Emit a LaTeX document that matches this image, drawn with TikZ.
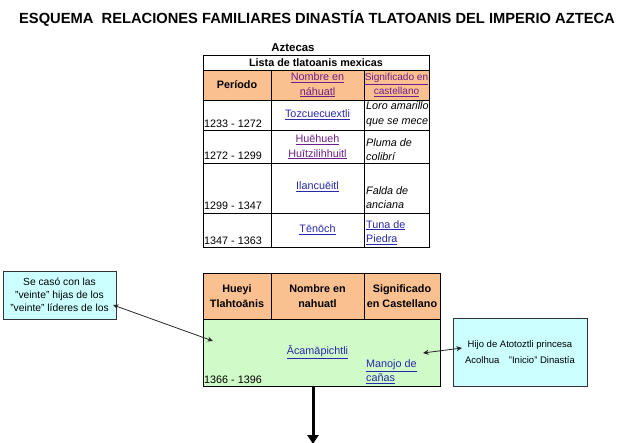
\documentclass[tikz,border=0pt]{standalone}
\usepackage{fontspec}
\setmainfont{Liberation Sans}
\usetikzlibrary{arrows.meta}
\definecolor{hdr}{RGB}{250,192,144}
\definecolor{grn}{RGB}{208,250,200}
\definecolor{cyn}{RGB}{204,255,255}
\definecolor{lnk}{RGB}{40,40,170}
\definecolor{vis}{RGB}{110,30,140}
\newcommand\lkb[1]{\textcolor{lnk}{\underline{#1}}}
\newcommand\lkv[1]{\textcolor{vis}{\underline{#1}}}
\begin{document}
\begin{tikzpicture}[x=1pt,y=-1pt,
  txt/.style={inner sep=0pt, font=\fontsize{10.8}{14.5}\selectfont, align=center},
  txtl/.style={inner sep=0pt, font=\fontsize{10.8}{14.5}\selectfont, align=left},
  bold/.style={inner sep=0pt, font=\fontsize{10.8}{14.5}\selectfont\bfseries, align=center},
  grid/.style={draw=black, line width=0.6pt},
  callout/.style={draw=black!80, line width=0.8pt, fill=cyn, align=center, inner sep=0pt},
  dbl/.style={{Stealth[length=5.5pt,width=5pt]}-{Stealth[length=5.5pt,width=5pt]}, line width=0.8pt, draw=black!85},
  down/.style={-{Triangle[length=9pt,width=11pt]}, line width=3pt}
]
\useasboundingbox (0,0) rectangle (640,442);
% title
\node[inner sep=0pt, font=\fontsize{14.7}{16}\selectfont\bfseries] (title) at (317,18)
  {ESQUEMA\ \ RELACIONES FAMILIARES DINASTÍA TLATOANIS DEL IMPERIO AZTECA};

% ---------- top table ----------
\node[bold, font=\fontsize{11.4}{14}\selectfont\bfseries] (azt) at (293,48) {Aztecas};
\fill[hdr] (203,70) rectangle (429,100);
\draw[grid] (203,55) rectangle (429,247);
\draw[grid] (203,70) -- (429,70);
\draw[grid] (203,100) -- (429,100);
\draw[grid] (203,130) -- (429,130);
\draw[grid] (203,163) -- (429,163);
\draw[grid] (203,213) -- (429,213);
\draw[grid] (271,70) -- (271,247);
\draw[grid] (364,70) -- (364,247);
\node[bold] (lista) at (316,62.5) {Lista de tlatoanis mexicas};
\node[bold] (per) at (237,85) {Período};
\node[txt] (nom) at (317.5,85) {\lkv{Nombre en}\\\lkv{náhuatl}};
\node[txt, font=\fontsize{10.1}{14.5}\selectfont] (sig) at (396.5,85) {\lkv{Significado en}\\\lkv{castellano}};
% row 1
\node[txtl, anchor=base west] (p1) at (204,127) {1233 - 1272};
\node[txt] (n1) at (317.5,115) {\lkb{Tozcuecuextli}};
\node[txtl, anchor=west] (s1) at (366,114) {\itshape Loro amarillo\\\itshape que se mece};
% row 2
\node[txtl, anchor=base west] (p2) at (204,159) {1272 - 1299};
\node[txt] (n2) at (317.5,147) {\lkv{Huēhueh}\\\lkv{Huītzilihhuitl}};
\node[txtl, anchor=west] (s2) at (366,149.5) {\itshape Pluma de\\\itshape colibrí};
% row 3
\node[txtl, anchor=base west] (p3) at (204,209) {1299 - 1347};
\node[txt] (n3) at (317.5,187) {\lkb{Ilancuēitl}};
\node[txtl, anchor=west] (s3) at (366,197.5) {\itshape Falda de\\\itshape anciana};
% row 4
\node[txtl, anchor=base west] (p4) at (204,244) {1347 - 1363};
\node[txt] (n4) at (317.5,230) {\lkb{Tēnōch}};
\node[txtl, anchor=west] (s4) at (366,232.5) {\lkb{Tuna de}\\\lkb{Piedra}};

% ---------- second table ----------
\fill[hdr] (203,273) rectangle (440,319);
\node[grid, fill=grn, minimum width=237pt, minimum height=67pt, anchor=north west, inner sep=0pt] (acam) at (203,319) {};
\draw[grid] (203,273) rectangle (440,319);
\draw[grid] (271,273) -- (271,319);
\draw[grid] (364,273) -- (364,319);
\node[bold] (h1) at (237,296) {Hueyi\\Tlahtoānis};
\node[bold] (h2) at (317.5,296) {Nombre en\\nahuatl};
\node[bold] (h3) at (402,296) {Significado\\en Castellano};
\node[txtl, anchor=base west] (p5) at (204,383) {1366 - 1396};
\node[txt] (n5) at (317.5,352) {\lkb{Ācamāpichtli}};
\node[txtl, anchor=west] (s5) at (366,371.5) {\lkb{Manojo de}\\\lkb{cañas}};

% ---------- callouts ----------
\node[callout, minimum width=113pt, minimum height=48pt, font=\fontsize{10.3}{13}\selectfont] (lbox) at (59.5,295)
  {Se casó con las\\"veinte" hijas de los\\"veinte" líderes de los};
\node[callout, minimum width=134pt, minimum height=68pt, font=\fontsize{9.5}{16}\selectfont] (rbox) at (520,352)
  {Hijo de Atotoztli princesa\\Acolhua\quad "Inicio" Dinastía};

% ---------- connectors ----------
\coordinate (la1) at (113,305);
\coordinate (la2) at (213,341);
\draw[dbl] (la1) -- (la2);
\coordinate (ra1) at (423,353);
\coordinate (ra2) at (462,348);
\draw[dbl] (ra1) -- (ra2);
\coordinate (dn) at (313,444);
\draw[down] (acam.south -| 313,0) -- (dn);
\end{tikzpicture}
\end{document}
